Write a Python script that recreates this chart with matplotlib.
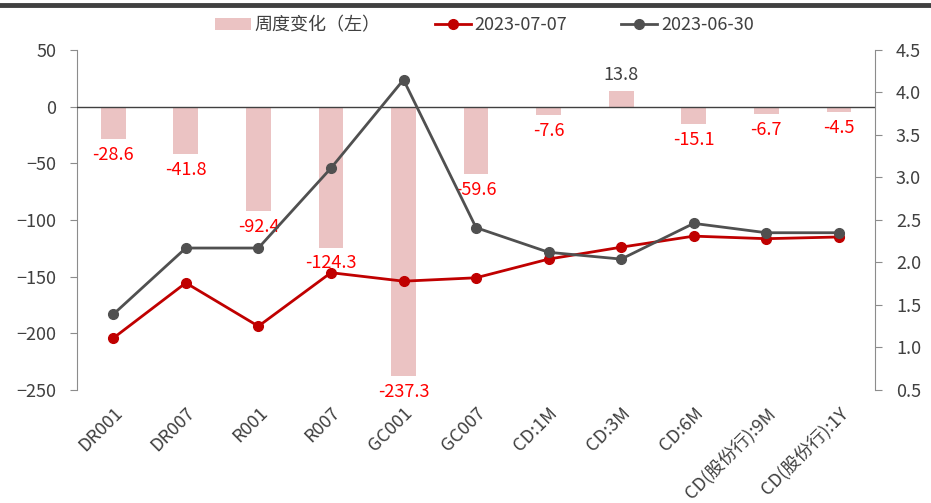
import matplotlib.pyplot as plt
from matplotlib.lines import Line2D
import numpy as np

plt.rcParams['font.family'] = ['Noto Sans CJK SC', 'DejaVu Sans']

categories = ['DR001', 'DR007', 'R001', 'R007', 'GC001', 'GC007',
              'CD:1M', 'CD:3M', 'CD:6M', 'CD(股份行):9M', 'CD(股份行):1Y']
weekly_change = [-28.6, -41.8, -92.4, -124.3, -237.3, -59.6, -7.6, 13.8, -15.1, -6.7, -4.5]
rate_0707 = [1.11, 1.76, 1.25, 1.88, 1.78, 1.82, 2.04, 2.18, 2.31, 2.28, 2.30]
rate_0630 = [1.39, 2.17, 2.17, 3.11, 4.15, 2.41, 2.12, 2.04, 2.46, 2.35, 2.35]

text_color = '#404040'
spine_color = '#8c8c8c'

fig = plt.figure(figsize=(9.31, 5.03), dpi=100)
ax = fig.add_axes([0.0827, 0.2247, 0.8573, 0.6759])
ax2 = ax.twinx()

x = np.arange(len(categories))
ax.bar(x, weekly_change, width=0.34, color='#ebc3c3', label='周度变化（左）', zorder=2)
ax.axhline(0, color='#404040', lw=1.0, zorder=3)

for xi, v in zip(x, weekly_change):
    off = 5 if v > 0 else -5
    va = 'bottom' if v > 0 else 'top'
    color = text_color if v > 0 else '#ff0000'
    ax.annotate(f'{v:.1f}', (xi, v), xytext=(0, off), textcoords='offset points',
                ha='center', va=va, color=color, fontsize=13, zorder=5)

ax2.plot(x, rate_0707, color='#c00000', lw=2, marker='o', ms=7, label='2023-07-07', zorder=4)
ax2.plot(x, rate_0630, color='#505050', lw=2, marker='o', ms=7, label='2023-06-30', zorder=4)

ax.set_xlim(-0.5, len(categories) - 0.5)
ax.set_ylim(-250, 50)
ax.set_yticks(np.arange(-250, 51, 50))
ax2.set_ylim(0.5, 4.5)
ax2.set_yticks(np.arange(0.5, 4.51, 0.5))
ax2.set_yticklabels([f'{t:.1f}' for t in np.arange(0.5, 4.51, 0.5)])

ax.set_xticks(x)
ax.set_xticklabels(categories, rotation=45, ha='right', rotation_mode='anchor')
ax.tick_params(axis='x', length=0, pad=10, labelsize=13, labelcolor=text_color)
ax.tick_params(axis='y', length=5, color=spine_color, labelsize=13, labelcolor=text_color, pad=10)
ax2.tick_params(axis='y', length=5, color=spine_color, labelsize=13, labelcolor=text_color, pad=10)

for a in (ax, ax2):
    a.spines['top'].set_visible(False)
    a.spines['bottom'].set_visible(False)
ax.spines['right'].set_visible(False)
ax2.spines['left'].set_visible(False)
ax.spines['left'].set_color(spine_color)
ax2.spines['right'].set_color(spine_color)

h1, l1 = ax.get_legend_handles_labels()
h2, l2 = ax2.get_legend_handles_labels()
fig.legend(h1 + h2, l1 + l2, loc='upper center', bbox_to_anchor=(0.52, 1.0), ncol=3,
           frameon=False, fontsize=13, labelcolor=text_color, handlelength=2.0,
           columnspacing=3.0, handletextpad=0.2)

fig.add_artist(Line2D([0, 1], [1 - 5 / 503, 1 - 5 / 503], color='#404040', lw=3.5,
                      transform=fig.transFigure))

fig.savefig('out.png', dpi=100)
